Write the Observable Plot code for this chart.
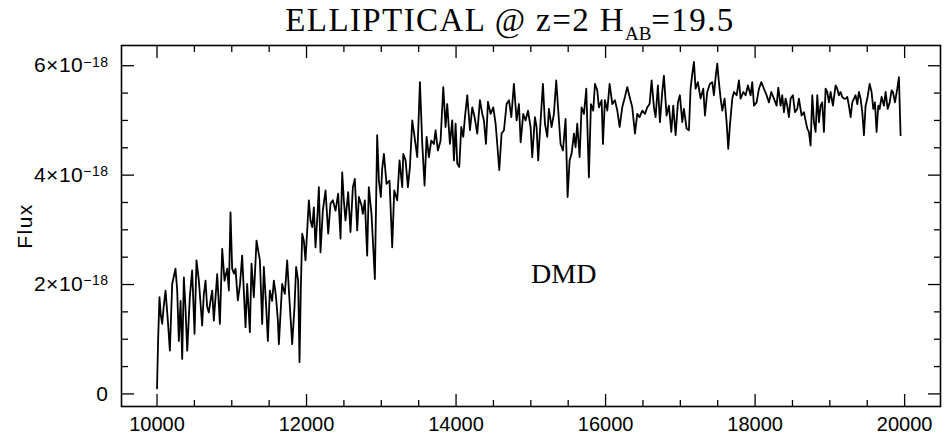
<!DOCTYPE html>
<html>
<head>
<meta charset="utf-8">
<script src="https://cdn.jsdelivr.net/npm/d3@7"></script>
<script src="https://cdn.jsdelivr.net/npm/@observablehq/plot@0.6"></script>
<style>
  html, body { margin: 0; padding: 0; background: #fff; }
  #title {
    width: 952px; height: 40px; box-sizing: border-box; padding-left: 68px;
    text-align: center; font-family: "Liberation Serif", "DejaVu Serif", serif;
    font-size: 33px; line-height: 40px; color: #000; white-space: nowrap;
    letter-spacing: 1.4px;
  }
  #title .sub { font-size: 19px; position: relative; top: 9px; letter-spacing: 0; }
  #chart svg { display: block; }
</style>
</head>
<body>
<div id="title">ELLIPTICAL @ z=2 H<span class="sub">AB</span>=19.5</div>
<div id="chart"></div>
<script>
// Wavelength (Angstrom) and flux (units of 1e-18)
const wavelength = [
  10000,10015,10033,10050,10069,10090,10114,10145,10172,10203,10247,10270,10292,10315,10337,10359,10380,10404,10439,10470,
  10502,10528,10560,10604,10625,10649,10670,10693,10715,10738,10760,10805,10841,10872,10903,10939,10961,10983,11005,11030,
  11050,11081,11110,11139,11184,11206,11242,11264,11295,11331,11376,11407,11429,11460,11483,11509,11540,11563,11590,11617,
  11630,11674,11710,11741,11772,11808,11839,11861,11888,11906,11924,11942,11964,11986,12009,12031,12053,12076,12098,12120,
  12147,12165,12187,12218,12254,12290,12321,12352,12388,12423,12455,12477,12499,12521,12557,12588,12620,12646,12678,12700,
  12735,12753,12780,12811,12833,12869,12914,12945,12968,12994,13012,13035,13070,13110,13146,13173,13213,13244,13280,13294,
  13325,13356,13383,13414,13445,13481,13517,13548,13579,13606,13637,13668,13704,13726,13757,13793,13829,13860,13882,13918,
  13949,13972,13994,14016,14043,14070,14096,14119,14150,14186,14217,14248,14284,14319,14351,14373,14400,14427,14462,14498,
  14529,14551,14578,14609,14641,14676,14708,14739,14774,14810,14841,14864,14899,14930,14962,14997,15019,15055,15077,15099,
  15126,15162,15189,15220,15242,15278,15309,15340,15367,15398,15430,15465,15492,15519,15545,15577,15599,15621,15653,15679,
  15711,15742,15777,15804,15835,15858,15889,15911,15947,15965,15991,16023,16054,16090,16125,16157,16188,16223,16259,16290,
  16322,16357,16393,16424,16455,16491,16527,16558,16589,16616,16647,16669,16700,16727,16758,16780,16816,16847,16879,16905,
  16937,16968,16994,17026,17048,17084,17115,17137,17160,17182,17204,17235,17271,17307,17329,17360,17396,17427,17449,17472,
  17494,17516,17539,17561,17592,17619,17641,17663,17695,17717,17753,17784,17806,17842,17873,17904,17940,17962,17985,18020,
  18052,18083,18118,18154,18185,18217,18252,18288,18310,18341,18363,18386,18408,18430,18452,18475,18506,18533,18564,18586,
  18622,18653,18675,18698,18720,18742,18765,18787,18809,18832,18854,18876,18898,18921,18943,18965,18988,19010,19041,19077,
  19099,19121,19144,19166,19188,19211,19233,19255,19278,19300,19322,19344,19367,19389,19411,19434,19456,19478,19501,19532,
  19558,19581,19603,19625,19648,19666,19692,19724,19746,19773,19800,19826,19844,19871,19902,19924,19946
];
const flux = [
  0.10,1.00,1.77,1.45,1.28,1.60,1.89,1.34,0.79,2.01,2.29,1.89,0.97,1.70,0.64,2.13,1.60,0.79,1.77,2.26,
  1.10,2.44,2.07,1.25,1.80,2.07,1.60,1.49,1.70,1.89,1.34,2.19,1.28,2.65,2.07,2.29,1.89,3.32,2.29,2.20,
  2.29,1.71,2.00,2.53,1.22,2.01,1.13,2.38,1.77,2.80,2.44,1.28,2.32,1.60,0.97,1.89,1.70,2.07,1.80,1.34,
  0.91,2.01,1.83,2.44,1.71,0.91,1.59,2.32,2.07,0.58,1.95,2.93,2.80,2.44,2.99,3.54,3.17,3.05,3.41,2.68,
  3.29,3.78,2.59,3.35,3.72,2.93,3.48,3.54,3.35,3.66,2.84,4.05,3.54,3.17,3.69,2.96,3.78,3.93,2.99,3.60,
  3.45,3.29,3.54,2.53,3.78,3.29,2.10,4.73,3.90,3.60,4.12,4.39,3.84,3.90,2.68,3.72,3.54,4.27,3.78,4.39,
  4.27,3.78,4.15,5.00,4.70,4.33,5.70,4.57,3.81,4.70,4.33,4.63,4.57,4.82,4.45,4.63,5.61,4.88,5.30,4.57,
  5.00,4.27,4.94,4.21,4.15,4.88,4.70,5.06,5.46,4.82,5.24,5.06,4.76,5.37,5.12,5.00,4.57,5.34,5.12,5.24,
  4.94,4.57,4.09,4.76,4.82,5.30,5.37,5.06,5.67,5.00,5.30,4.60,5.12,5.00,5.18,4.88,4.33,5.06,4.88,4.27,
  4.88,5.67,4.94,4.70,5.21,4.88,5.12,5.73,5.18,4.57,4.45,5.03,3.60,4.27,4.39,4.76,4.51,4.94,4.33,5.24,
  5.12,5.58,3.96,5.30,5.18,5.67,5.55,5.24,5.37,4.57,5.37,5.18,5.67,5.30,5.37,5.18,4.88,5.24,5.43,5.61,
  5.43,5.24,4.76,5.12,5.06,5.18,5.12,5.24,5.30,5.73,5.24,5.06,5.64,4.97,5.52,5.82,5.09,5.27,4.79,5.27,
  4.73,5.33,5.46,4.97,5.21,4.85,4.82,5.58,5.85,6.07,5.58,5.70,5.40,5.58,5.09,5.52,5.67,5.70,5.46,5.79,
  6.04,5.70,5.40,5.18,5.40,4.97,4.48,4.91,5.40,5.52,5.46,5.73,5.40,5.52,5.46,5.64,5.46,5.70,5.27,5.33,
  5.58,5.70,5.58,5.46,5.33,5.52,5.40,5.27,5.60,5.27,5.46,5.15,5.40,5.27,5.06,5.40,5.46,5.15,5.21,5.40,
  5.09,5.15,5.00,4.85,4.79,4.54,5.46,4.97,4.79,5.46,4.97,5.27,5.33,4.79,5.58,5.52,5.33,5.52,5.27,5.64,
  5.58,5.46,5.52,5.43,5.40,5.40,5.43,5.27,5.06,5.33,5.40,5.46,5.30,5.52,5.40,5.15,4.73,5.27,5.40,5.67,
  5.52,5.21,5.33,4.79,5.27,5.21,5.43,5.27,5.52,5.21,5.33,5.55,5.52,5.33,5.58,5.79,4.73
];
const xMajorTicks = [10000, 12000, 14000, 16000, 18000, 20000];
const xMinorTicks = [10500, 11000, 11500, 12500, 13000, 13500, 14500, 15000, 15500, 16500, 17000, 17500, 18500, 19000, 19500];
const yMajorTicks = [0, 2, 4, 6];
const yMinorTicks = [0.5, 1, 1.5, 2.5, 3, 3.5, 4.5, 5, 5.5];
const yTickMantissa = ["0", "2×10", "4×10", "6×10"];
const yTickExponent = ["", "−18", "−18", "−18"];
const yTitle = "Flux";
const annotationText = ["DMD"];
const annotationX = [15440];
const annotationY = [2.2];

const data = wavelength.map((w, i) => ({w, f: flux[i]}));
const notes = annotationText.map((t, i) => ({t, x: annotationX[i], y: annotationY[i]}));

const sans = "'Liberation Sans', 'DejaVu Sans', sans-serif";
const plot = Plot.plot({
  width: 952,
  height: 402,
  marginLeft: 121,
  marginRight: 12,
  marginTop: 5,
  marginBottom: 36,
  style: {fontFamily: sans, color: "#000", background: "#fff"},
  x: {domain: [9525, 20480]},
  y: {domain: [-0.23, 6.37]},
  marks: [
    Plot.frame({stroke: "#000", strokeWidth: 1.6}),
    // inward major/minor ticks on all four sides
    Plot.axisX(xMajorTicks, {anchor: "bottom", tickSize: 12, dy: -12, text: null, strokeWidth: 1.3}),
    Plot.axisX(xMinorTicks, {anchor: "bottom", tickSize: 6, dy: -6, text: null, strokeWidth: 1.3}),
    Plot.axisX(xMajorTicks, {anchor: "top", tickSize: 12, dy: 12, text: null, label: null, strokeWidth: 1.3}),
    Plot.axisX(xMinorTicks, {anchor: "top", tickSize: 6, dy: 6, text: null, label: null, strokeWidth: 1.3}),
    Plot.axisY(yMajorTicks, {anchor: "left", tickSize: 13, dx: 13, text: null, label: null, strokeWidth: 1.3}),
    Plot.axisY(yMinorTicks, {anchor: "left", tickSize: 7, dx: 7, text: null, label: null, strokeWidth: 1.3}),
    Plot.axisY(yMajorTicks, {anchor: "right", tickSize: 13, dx: -13, text: null, label: null, strokeWidth: 1.3}),
    Plot.axisY(yMinorTicks, {anchor: "right", tickSize: 7, dx: -7, text: null, label: null, strokeWidth: 1.3}),
    // tick labels
    Plot.axisX(xMajorTicks, {anchor: "bottom", tickSize: 0, tickPadding: 10, fontSize: 20, label: null, tickFormat: d => String(d)}),
    Plot.axisY(yMajorTicks, {anchor: "left", tickSize: 0, tickPadding: 13, fontSize: 21,
      tickFormat: d => yTickMantissa[yMajorTicks.indexOf(d)] + "\u200B" + yTickExponent[yMajorTicks.indexOf(d)],
      label: yTitle, labelAnchor: "center", labelArrow: "none", labelOffset: 104}),
    // the spectrum
    Plot.line(data, {x: "w", y: "f", stroke: "#000", strokeWidth: 1.8, strokeLinejoin: "round"}),
    Plot.text(notes, {x: "x", y: "y", text: "t", fontSize: 28, fontFamily: "'Liberation Serif', 'DejaVu Serif', serif", fill: "#000"})
  ]
});
// render the power-of-ten exponent as a raised, smaller tspan
d3.select(plot).selectAll("text").each(function() {
  const s = this.textContent;
  const k = s.indexOf("\u200B");
  if (k < 0) return;
  const base = s.slice(0, k), exp = s.slice(k + 1);
  const el = d3.select(this);
  el.text(null);
  el.append("tspan").attr("letter-spacing", "0.5px").text(base);
  if (exp) el.append("tspan").attr("dy", "-0.42em").attr("font-size", "14px").attr("letter-spacing", "0.5px").text(exp);
});
// larger axis title
d3.select(plot).selectAll("text").filter(function() { return this.textContent === yTitle; })
  .style("font-size", "21px").style("letter-spacing", "1.5px");
document.getElementById("chart").appendChild(plot);
</script>
</body>
</html>
